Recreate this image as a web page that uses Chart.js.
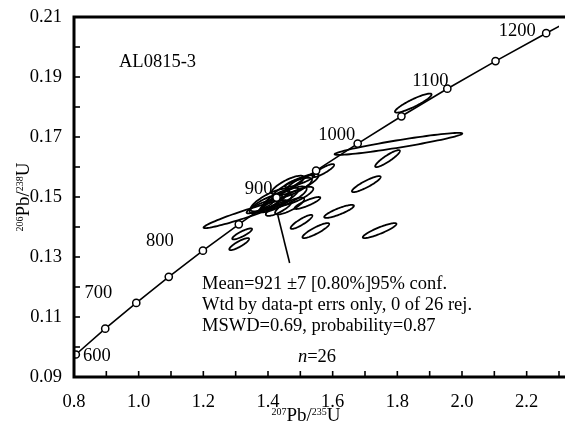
<!DOCTYPE html>
<html>
<head>
<meta charset="utf-8">
<script src="https://cdn.jsdelivr.net/npm/chart.js@4.4.0/dist/chart.umd.min.js"></script>
<style>
html, body { margin: 0; padding: 0; background: #fff; overflow: hidden; }
#wrap { width: 565px; height: 424px; }
</style>
</head>
<body>
<div id="wrap"><canvas id="chart" width="565" height="424"></canvas></div>
<script>
// Concordia marks (Ma) with 207Pb/235U and 206Pb/238U
const concAge = [600, 650, 700, 750, 800, 850, 900, 950, 1000, 1050, 1100, 1150, 1200, 1250];
const concX = [0.8056, 0.8966, 0.9926, 1.0931, 1.1987, 1.3097, 1.4264, 1.5488, 1.6774, 1.8126, 1.9546, 2.1037, 2.2603, 2.4250];
const concY = [0.0975, 0.1061, 0.1147, 0.1234, 0.1321, 0.1409, 0.1498, 0.1588, 0.1678, 0.1769, 0.1861, 0.1953, 0.2046, 0.2140];
const labelAges = [600, 700, 800, 900, 1000, 1100, 1200];

// Error ellipses: centre, half-extent in x and y, error correlation
const ellX = [1.8493, 1.8034, 1.7697, 1.7040, 1.5709, 1.6198, 1.5036, 1.5479, 1.7452, 1.5219, 1.4975, 1.3292, 1.3200, 1.3109, 1.3751,
              1.4393, 1.4761, 1.4240, 1.4852, 1.4608, 1.4057, 1.4669, 1.5066, 1.4332, 1.4546, 1.3935];
const ellY = [0.1813, 0.1677, 0.1628, 0.1543, 0.1588, 0.1452, 0.1417, 0.1388, 0.1388, 0.1480, 0.1553, 0.1443, 0.1377, 0.1343, 0.1467,
              0.1497, 0.1530, 0.1480, 0.1503, 0.1540, 0.1490, 0.1470, 0.1547, 0.1463, 0.1497, 0.1477];
const ellSx = [0.0566, 0.1973, 0.0382, 0.0444, 0.0336, 0.0459, 0.0336, 0.0413, 0.0520, 0.0398, 0.0459, 0.1285, 0.0306, 0.0306, 0.0413,
               0.0550, 0.0600, 0.0500, 0.0550, 0.0500, 0.0600, 0.0450, 0.0500, 0.0400, 0.0650, 0.0500];
const ellSy = [0.00317, 0.00367, 0.00283, 0.00267, 0.00217, 0.00217, 0.00233, 0.00250, 0.00250, 0.00200, 0.00200, 0.00467, 0.00183, 0.00200, 0.00217,
               0.00340, 0.00340, 0.00310, 0.00310, 0.00310, 0.00380, 0.00280, 0.00310, 0.00260, 0.00380, 0.00310];
const ellRho = [0.90, 0.94, 0.90, 0.89, 0.87, 0.86, 0.88, 0.88, 0.89, 0.87, 0.87, 0.96, 0.86, 0.86, 0.87,
                0.80, 0.80, 0.80, 0.80, 0.80, 0.80, 0.80, 0.80, 0.80, 0.80, 0.80];

// Pointer from the statistics text to the weighted mean
const pointerX = [1.4669, 1.4302];
const pointerY = [0.1280, 0.1440];

const statLines = ['Mean=921 \u00b17 [0.80%]95% conf.', 'Wtd by data-pt errs only, 0 of 26 rej.', 'MSWD=0.69, probability=0.87'];

const SERIF = "'Liberation Serif', 'Times New Roman', serif";

// where each age label sits relative to its concordia mark (px)
const labelOffset = { 600: [21, 2], 700: [-38, -10], 800: [-43, -10], 900: [-18, -8], 1000: [-21, -8], 1100: [-17, -8], 1200: [-29, -2] };

function drawRich(ctx, parts, cx, cy, big, small) {
    let w = 0;
    parts.forEach(p => {
        ctx.font = (p.sup ? small : big) + 'px ' + SERIF;
        p.w = ctx.measureText(p.t).width;
        w += p.w;
    });
    let x = cx - w / 2;
    parts.forEach(p => {
        ctx.font = (p.sup ? small : big) + 'px ' + SERIF;
        ctx.fillText(p.t, x, p.sup ? cy - big * 0.3 : cy);
        x += p.w;
    });
}

const decor = {
    id: 'decor',
    beforeDatasetsDraw(chart) {
        const ctx = chart.ctx, xs = chart.scales.x, ys = chart.scales.y, a = chart.chartArea;
        ctx.save();
        ctx.beginPath();
        ctx.rect(a.left, a.top, a.right - a.left, a.bottom - a.top);
        ctx.clip();
        ctx.strokeStyle = '#000';
        ctx.lineWidth = 1.8;
        for (let i = 0; i < ellX.length; i++) {
            const k = Math.sqrt(1 - ellRho[i] * ellRho[i]);
            ctx.beginPath();
            for (let j = 0; j <= 90; j++) {
                const t = j / 90 * Math.PI * 2;
                const vx = ellX[i] + ellSx[i] * Math.cos(t);
                const vy = ellY[i] + ellSy[i] * (ellRho[i] * Math.cos(t) + k * Math.sin(t));
                const px = xs.getPixelForValue(vx), py = ys.getPixelForValue(vy);
                if (j === 0) ctx.moveTo(px, py); else ctx.lineTo(px, py);
            }
            ctx.closePath();
            ctx.stroke();
        }
        ctx.restore();
    },
    afterDraw(chart) {
        const ctx = chart.ctx, xs = chart.scales.x, ys = chart.scales.y, a = chart.chartArea;
        ctx.save();
        ctx.strokeStyle = '#000';
        ctx.fillStyle = '#000';
        // frame
        ctx.lineWidth = 3;
        ctx.beginPath();
        ctx.moveTo(565, a.top);
        ctx.lineTo(a.left, a.top);
        ctx.lineTo(a.left, a.bottom);
        ctx.lineTo(565, a.bottom);
        ctx.stroke();
        // inward ticks
        ctx.lineWidth = 1.6;
        xs.ticks.forEach(t => {
            const px = xs.getPixelForValue(t.value);
            if (px <= a.left + 1) return;
            ctx.beginPath();
            ctx.moveTo(px, a.bottom);
            ctx.lineTo(px, a.bottom - 6);
            ctx.stroke();
        });
        ys.ticks.forEach(t => {
            const py = ys.getPixelForValue(t.value);
            if (py >= a.bottom - 1 || py <= a.top + 1) return;
            ctx.beginPath();
            ctx.moveTo(a.left, py);
            ctx.lineTo(a.left + 6, py);
            ctx.stroke();
        });
        // age labels
        ctx.font = '18.5px ' + SERIF;
        ctx.textAlign = 'center';
        ctx.textBaseline = 'middle';
        labelAges.forEach(age => {
            const i = concAge.indexOf(age);
            const off = labelOffset[age];
            ctx.fillText(String(age), xs.getPixelForValue(concX[i]) + off[0], ys.getPixelForValue(concY[i]) + off[1]);
        });
        // sample name
        ctx.textAlign = 'left';
        ctx.fillText('AL0815-3', 119, 62);
        // statistics
        statLines.forEach((s, i) => ctx.fillText(s, 202, 284 + i * 21));
        ctx.font = 'italic 18.5px ' + SERIF;
        const nw = ctx.measureText('n').width;
        ctx.font = '18.5px ' + SERIF;
        const rw = ctx.measureText('=26').width;
        const nx = 317 - (nw + rw) / 2;
        ctx.font = 'italic 18.5px ' + SERIF;
        ctx.fillText('n', nx, 357);
        ctx.font = '18.5px ' + SERIF;
        ctx.fillText('=26', nx + nw, 357);
        // axis titles
        ctx.textBaseline = 'alphabetic';
        ctx.textAlign = 'left';
        drawRich(ctx, [{ t: '207', sup: true }, { t: 'Pb/' }, { t: '235', sup: true }, { t: 'U' }], 306, 421, 19, 10);
        ctx.translate(29, 197);
        ctx.rotate(-Math.PI / 2);
        drawRich(ctx, [{ t: '206', sup: true }, { t: 'Pb/' }, { t: '238', sup: true }, { t: 'U' }], 0, 0, 19, 10);
        ctx.restore();
    }
};

new Chart(document.getElementById('chart'), {
    type: 'scatter',
    data: {
        datasets: [{
            data: concX.map((x, i) => ({ x: x, y: concY[i] })),
            showLine: true,
            borderColor: '#000',
            borderWidth: 1.6,
            pointRadius: concAge.map(t => t <= 1200 ? 3.6 : 0),
            pointBackgroundColor: '#fff',
            pointBorderColor: '#000',
            pointBorderWidth: 1.5
        }, {
            data: pointerX.map((x, i) => ({ x: x, y: pointerY[i] })),
            showLine: true,
            borderColor: '#000',
            borderWidth: 1.6,
            pointRadius: 0
        }]
    },
    options: {
        responsive: false,
        animation: false,
        layout: { padding: { top: 17, right: 1, left: 0, bottom: 0 } },
        plugins: { legend: { display: false }, tooltip: { enabled: false } },
        scales: {
            x: {
                type: 'linear',
                min: 0.8,
                max: 2.3,
                grid: { display: false },
                border: { display: false },
                ticks: {
                    stepSize: 0.1,
                    autoSkip: false,
                    maxRotation: 0,
                    padding: 6,
                    color: '#000',
                    font: { family: SERIF, size: 18.5 },
                    callback: v => Math.round(v * 10) % 2 === 0 && v < 2.25 ? v.toFixed(1) : ''
                },
                afterFit: s => { s.height = 47; }
            },
            y: {
                min: 0.09,
                max: 0.21,
                grid: { display: false },
                border: { display: false },
                ticks: {
                    stepSize: 0.01,
                    autoSkip: false,
                    padding: 4,
                    color: '#000',
                    font: { family: SERIF, size: 18.5 },
                    callback: v => Math.round(v * 100) % 2 === 1 ? v.toFixed(2) : ''
                },
                afterFit: s => { s.width = 74; }
            }
        }
    },
    plugins: [decor]
});
</script>
</body>
</html>
